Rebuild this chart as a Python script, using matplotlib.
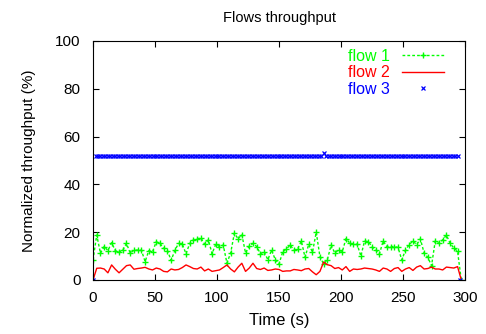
import matplotlib
matplotlib.use('Agg')
import matplotlib.pyplot as plt
import numpy as np

plt.rcParams['font.family'] = ['Liberation Sans', 'DejaVu Sans']

# sample times (s)
time = np.arange(0, 300, 3)
time3 = np.arange(0, 298, 2)

flow1 = [8.4, 18.8, 11.2, 14, 12.3, 15.6, 12.3, 11.7, 12.5, 15.3,
         11.2, 12.5, 12.5, 12.5, 7.7, 12.3, 11.8, 16, 15.3, 13.2,
         12.3, 8.2, 12.4, 15.3, 15, 11, 15.3, 16.8, 17.2, 17.6,
         15, 16.8, 11, 15, 14, 14.6, 7.1, 11.3, 19.6, 17.2,
         19, 11.3, 14.2, 15.3, 14, 11, 11.8, 8.5, 12.5, 8.5,
         6.7, 11.8, 13, 14.6, 12.5, 13, 16.3, 9.5, 15, 11.6,
         20, 9.8, 6.7, 8.5, 14.6, 11.3, 12.6, 11.8, 17.3, 15.5,
         15, 15, 10, 16.3, 16, 14, 12.5, 11, 16.3, 14,
         14, 14, 13.6, 8.4, 12.5, 14.8, 16.3, 14.8, 17.2, 11.3,
         9.5, 6, 16.3, 15.3, 16.8, 18.8, 15.3, 13.4, 12, 0]

flow2 = [0, 4.9, 5.0, 4.6, 3.0, 6.3, 4.5, 3.0, 4.5, 6.0,
         6.3, 4.5, 4.8, 5.0, 5.3, 4.6, 4.2, 5.0, 4.6, 3.6,
         3.4, 4.6, 4.2, 4.4, 5.2, 6.3, 5.6, 4.8, 4.6, 5.4,
         3.8, 4.6, 3.6, 3.9, 4.2, 5.2, 6.3, 4.6, 3.4, 5.4,
         7.0, 3.6, 5.0, 7.0, 4.8, 4.4, 5.0, 4.0, 4.2, 4.6,
         4.4, 3.6, 3.8, 3.8, 4.4, 4.2, 3.9, 4.6, 4.8, 3.4,
         2.2, 3.6, 7.5, 6.4, 6.0, 4.8, 5.2, 4.2, 5.6, 3.6,
         4.6, 4.4, 4.6, 5.0, 4.8, 4.6, 4.2, 3.6, 5.0, 4.6,
         3.6, 4.8, 5.2, 3.6, 4.6, 5.2, 4.0, 5.4, 6.0, 4.6,
         4.8, 5.4, 4.6, 4.6, 4.2, 5.4, 5.2, 5.0, 5.6, 0]

flow3 = [0] + [52.0] * 92 + [53.0] + [52.0] * 54 + [0]

fig = plt.figure(figsize=(4.86, 3.34), dpi=100)
ax = fig.add_axes([0.1914, 0.1617, 0.7654, 0.7156])

ax.plot(time, flow1, color='#00ff00', linestyle=(0, (2, 1.5)), linewidth=1,
        marker='+', markersize=5, markeredgewidth=1, label='flow 1')
ax.plot(time, flow2, color='#ff0000', linewidth=1, label='flow 2')
ax.plot(time3, flow3, color='#0000ff', linestyle='none', marker='x',
        markersize=3, markeredgewidth=0.9, label='flow 3')

ax.set_xlim(0, 300)
ax.set_ylim(0, 100)
ax.set_xticks(range(0, 301, 50))
ax.set_yticks(range(0, 101, 20))
ax.tick_params(direction='in', top=True, right=True, length=4, labelsize=11)
ax.tick_params(axis='x', pad=8)
ax.tick_params(axis='y', pad=9)
ax.set_xlabel('Time (s)', fontsize=12, labelpad=6)
ax.set_ylabel('Normalized throughput (%)', fontsize=11, labelpad=14)
ax.set_title('Flows throughput', fontsize=10.5, pad=14)

leg = ax.legend(loc='upper right', frameon=False, markerfirst=False,
                fontsize=11.5, handlelength=2.6, handletextpad=0.8,
                labelspacing=0.08, borderaxespad=0.1,
                bbox_to_anchor=(0.965, 1.0))
for text, c in zip(leg.get_texts(), ['#00ff00', '#ff0000', '#0000ff']):
    text.set_color(c)

fig.savefig('out.png', dpi=100)
